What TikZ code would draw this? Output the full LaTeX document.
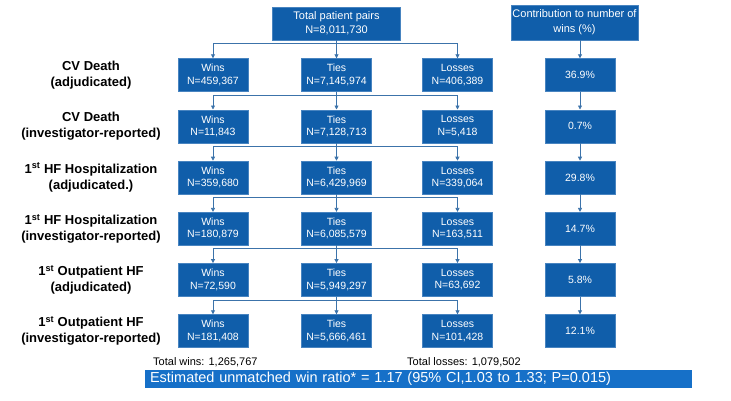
\documentclass[tikz,border=0pt]{standalone}
\usepackage[RGB]{xcolor}
\usepackage{fontspec}
\setmainfont{Liberation Sans}
\usetikzlibrary{arrows.meta}
\definecolor{B}{RGB}{16,94,170}
\definecolor{E}{RGB}{72,132,192}
\definecolor{K}{RGB}{22,112,200}
\definecolor{A}{RGB}{60,115,170}
\tikzset{
  cell/.style={draw=E,fill=B,text=white,minimum width=70pt,minimum height=33pt,align=center,inner sep=1pt,font=\fontsize{10.5}{12.5}\selectfont},
  arr/.style={draw=A,line width=0.8pt,-{Triangle[width=4pt,length=4pt]}},
  outcome/.style={align=center,font=\fontsize{13}{16}\selectfont\bfseries}
}
% one outcome row: index, y, label, wins, ties, losses, contribution
\newcommand{\outcomerow}[7]{
  \node[outcome] (o#1) at (91,#2) {#3};
  \node[cell] (w#1) at (213,#2) {Wins\\N=#4};
  \node[cell] (t#1) at (336.5,#2) {Ties\\N=#5};
  \node[cell] (l#1) at (457.5,#2) {Losses\\N=#6};
  \node[cell] (c#1) at (580,#2) {#7};
}
\newcommand{\first}{1\textsuperscript{st}}

\begin{document}
\begin{tikzpicture}[x=1pt,y=-1pt]
\useasboundingbox (0,0) rectangle (731,400);
\node[cell,minimum width=128pt,font=\fontsize{11}{14}\selectfont] (t0) at (336.5,23.5) {Total patient pairs\\N=8,011,730};
\node[cell,minimum width=127pt,minimum height=35pt,font=\fontsize{11}{15}\selectfont] (c0) at (574.5,22.5) {Contribution to number of\\wins (\%)};
\outcomerow{1}{75}{CV Death\\(adjudicated)}{459,367}{7,145,974}{406,389}{36.9\%}
\outcomerow{2}{126.2}{CV Death\\(investigator-reported)}{11,843}{7,128,713}{5,418}{0.7\%}
\outcomerow{3}{177.4}{\first{} HF Hospitalization\\(adjudicated.)}{359,680}{6,429,969}{339,064}{29.8\%}
\outcomerow{4}{228.6}{\first{} HF Hospitalization\\(investigator-reported)}{180,879}{6,085,579}{163,511}{14.7\%}
\outcomerow{5}{279.8}{\first{} Outpatient HF\\(adjudicated)}{72,590}{5,949,297}{63,692}{5.8\%}
\outcomerow{6}{331}{\first{} Outpatient HF\\(investigator-reported)}{181,408}{5,666,461}{101,428}{12.1\%}
\foreach \i [count=\j from 1] in {0,...,5}{
  \draw[arr] (t\i.south) -- ++(0,3.5) -| (w\j.north);
  \draw[arr] (t\i.south) -- ++(0,3.5) -| (l\j.north);
  \draw[arr] (t\i.south -| t\j.north) -- (t\j.north);
  \draw[arr] (c\i.south -| c\j.north) -- (c\j.north);
}
\node[anchor=west,inner sep=0pt,font=\fontsize{11}{13}\selectfont] (tw) at (153,362) {Total wins: 1,265,767};
\node[anchor=west,inner sep=0pt,font=\fontsize{11}{13}\selectfont] (tl) at (407,362) {Total losses: 1,079,502};
\node[fill=K,text=white,minimum height=18pt,text width=537pt,inner xsep=5pt,inner ysep=0pt,align=left,font=\fontsize{14.5}{16}\selectfont] (wr) at (418.5,379) {Estimated unmatched win ratio* = 1.17 (95\% CI,1.03 to 1.33; P=0.015)};
\end{tikzpicture}
\end{document}
